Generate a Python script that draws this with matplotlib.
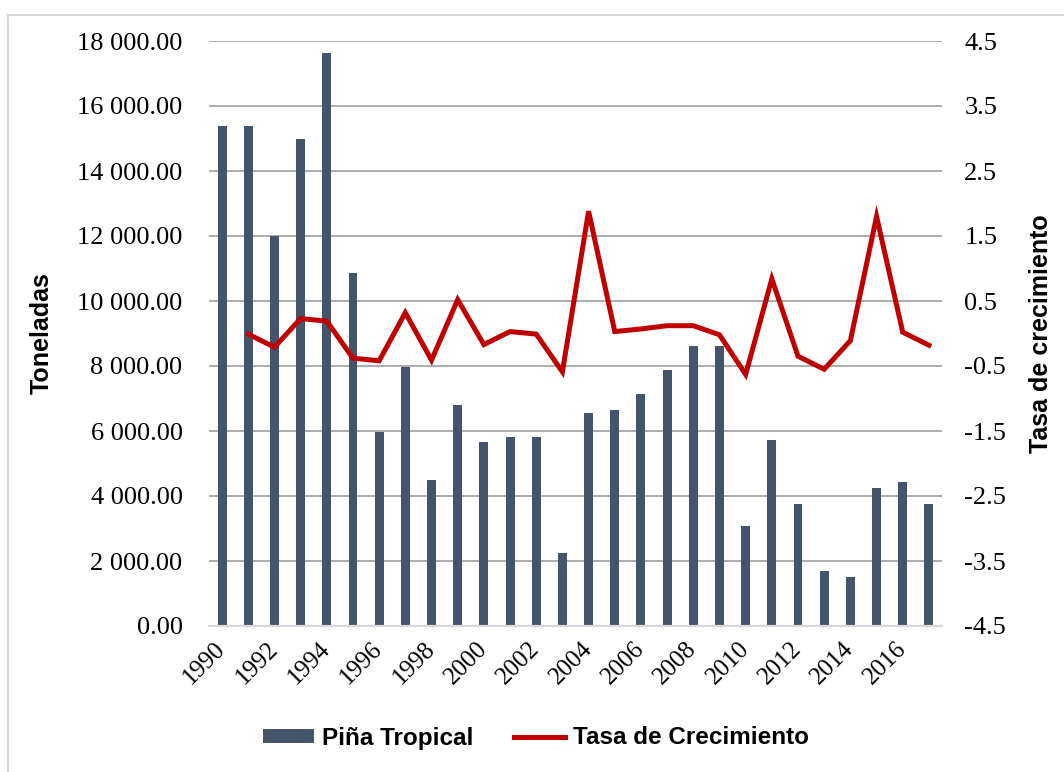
import numpy as np
import matplotlib
matplotlib.use("Agg")
import matplotlib.pyplot as plt
from matplotlib.lines import Line2D
from matplotlib.patches import Patch

years = list(range(1990, 2018))
toneladas = [15400, 15400, 12000, 15000, 17630, 10850, 5980, 7970, 4480, 6800,
             5670, 5820, 5820, 2255, 6550, 6640, 7140, 7880, 8620, 8620,
             3090, 5730, 3750, 1690, 1520, 4240, 4420, 3750]
tasa = [np.nan, -0.01, -0.21, 0.23, 0.19, -0.38, -0.42, 0.32, -0.41, 0.52,
        -0.17, 0.03, -0.01, -0.59, 1.88, 0.03, 0.07, 0.12, 0.12, -0.02,
        -0.63, 0.84, -0.35, -0.55, -0.11, 1.80, 0.02, -0.18]
left_ticks = [0, 2000, 4000, 6000, 8000, 10000, 12000, 14000, 16000, 18000]
right_ticks = [-4.5, -3.5, -2.5, -1.5, -0.5, 0.5, 1.5, 2.5, 3.5, 4.5]
xtick_years = list(range(1990, 2017, 2))

bar_color = "#44546A"
line_color = "#C00000"
grid_color = "#A6A6A6"
serif = "Liberation Serif"
sans = "Liberation Sans"

W, H = 1064, 772
fig = plt.figure(figsize=(W / 100, H / 100), dpi=100)
ax = fig.add_axes([209 / W, 1 - 626 / H, (942 - 209) / W, (626 - 41) / H])

x = np.arange(len(years))
ax.bar(x, toneladas, width=0.34, color=bar_color, zorder=2)
ax.set_xlim(-0.5, len(years) - 0.5)
ax.set_ylim(0, 18000)
ax.set_yticks(left_ticks)
ax.set_yticklabels([f"{v:,.2f}".replace(",", " ") for v in left_ticks],
                   fontfamily=serif, fontsize=19)
ax.yaxis.grid(True, color=grid_color, linewidth=1.3, zorder=0)
ax.set_axisbelow(True)
for s in ["top", "right", "left"]:
    ax.spines[s].set_visible(False)
ax.spines["bottom"].set_color("#D9D9D9")
ax.spines["bottom"].set_linewidth(1.6)
ax.tick_params(axis="both", length=0)
ax.tick_params(axis="y", pad=19)
xt = [years.index(y) for y in xtick_years]
ax.set_xticks(xt)
ax.set_xticklabels([str(y) for y in xtick_years], fontfamily=serif, fontsize=18,
                   rotation=45, ha="right", va="center", rotation_mode="anchor")
ax.tick_params(axis="x", pad=14)
ax.set_ylabel("Toneladas", fontfamily=sans, fontweight="bold", fontsize=18)
ax.yaxis.set_label_coords((54 - 209) / (942 - 209), 0.5)

ax2 = ax.twinx()
ax2.plot(x, tasa, color=line_color, linewidth=3.6, solid_joinstyle="miter", zorder=3)
ax2.set_ylim(-4.5, 4.5)
ax2.set_yticks(right_ticks)
ax2.set_yticklabels([f"{v:g}" for v in right_ticks], fontfamily=serif, fontsize=19)
ax2.tick_params(axis="y", length=0, pad=16)
for s in ["top", "right", "left", "bottom"]:
    ax2.spines[s].set_visible(False)
ax2.set_ylabel("Tasa de crecimiento", fontfamily=sans, fontweight="bold", fontsize=18)
ax2.yaxis.set_label_coords((1029 - 209) / (942 - 209), 0.5)

handles = [Patch(facecolor=bar_color, edgecolor="none", label="Piña Tropical"),
           Line2D([0], [0], color=line_color, linewidth=3.6, label="Tasa de Crecimiento")]
fig.legend(handles=handles, loc="center", bbox_to_anchor=(536 / W, 1 - 738 / H),
           ncol=2, frameon=False, prop={"family": sans, "weight": "bold", "size": 17.5},
           handlelength=2.1, handleheight=0.55, handletextpad=0.3, columnspacing=1.7)

# chart border
fig.add_artist(Line2D([8 / W, 1], [1 - 15 / H, 1 - 15 / H], color="#D9D9D9", linewidth=1.5))
fig.add_artist(Line2D([8 / W, 8 / W], [0, 1 - 15 / H], color="#D9D9D9", linewidth=1.5))

fig.savefig("out.png", dpi=100)
